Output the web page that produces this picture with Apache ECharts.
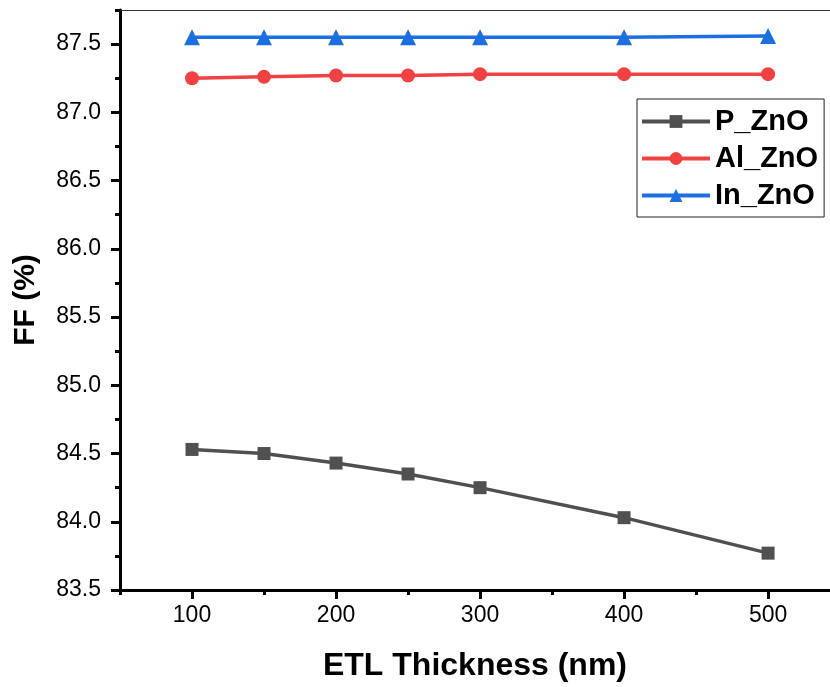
<!DOCTYPE html>
<html lang="en">

<head>
    <meta charset="UTF-8">
    <title>FF vs ETL Thickness</title>
    <style>
        html, body {
            margin: 0;
            padding: 0;
            background: #fff;
        }

        #main {
            width: 830px;
            height: 687px;
        }
    </style>
    <script src="https://cdn.jsdelivr.net/npm/echarts@6/dist/echarts.min.js"></script>
</head>

<body>
    <div id="main"></div>

    <script type="text/javascript">
        // 横轴：ETL 厚度 (nm)
        var thickness = [100, 150, 200, 250, 300, 400, 500];
        // 三组 FF 数据 (%)
        var pZnO = [84.53, 84.50, 84.43, 84.35, 84.25, 84.03, 83.77];
        var alZnO = [87.25, 87.26, 87.27, 87.27, 87.28, 87.28, 87.28];
        var inZnO = [87.55, 87.55, 87.55, 87.55, 87.55, 87.55, 87.56];

        // 刻度
        var xMajorTicks = [100, 200, 300, 400, 500];
        var xMinorTicks = [50, 150, 250, 350, 450];
        var yMajorTicks = [83.5, 84.0, 84.5, 85.0, 85.5, 86.0, 86.5, 87.0, 87.5];
        var yMinorTicks = [83.75, 84.25, 84.75, 85.25, 85.75, 86.25, 86.75, 87.25, 87.75];

        var font = 'Liberation Sans, Arial, sans-serif';

        // 把 x 和 y 组合成点
        function pairs(xs, ys) {
            return xs.map(function (x, i) {
                return [x, ys[i]];
            });
        }

        function makeSeries(name, ys, color, symbol, size) {
            return {
                name: name,
                type: 'line',
                xAxisIndex: 0,
                yAxisIndex: 0,
                data: pairs(thickness, ys),
                symbol: symbol,
                symbolSize: size,
                showAllSymbol: true,
                animation: false,
                lineStyle: { color: color, width: 3.5 },
                itemStyle: { color: color }
            };
        }

        var option = {
            backgroundColor: '#fff',
            textStyle: { fontFamily: font },
            grid: {
                left: 120,
                right: 0,
                top: 10,
                bottom: 97
            },
            legend: {
                orient: 'vertical',
                left: 637,
                top: 99,
                padding: [4, 6, 3, 3],
                itemGap: 0,
                itemWidth: 68,
                itemHeight: 16,
                borderColor: '#222',
                borderWidth: 1,
                lineStyle: { width: 4 },
                textStyle: {
                    fontFamily: font,
                    fontSize: 29,
                    fontWeight: 'bold',
                    color: '#000',
                    lineHeight: 37
                },
                data: ['P_ZnO', 'Al_ZnO', 'In_ZnO']
            },
            xAxis: [{
                type: 'value',
                min: 50,
                max: 543,
                name: 'ETL Thickness (nm)',
                nameLocation: 'middle',
                nameGap: 60,
                nameTextStyle: { fontFamily: font, fontSize: 32, fontWeight: 'bold', color: '#000' },
                splitLine: { show: false },
                axisLine: { lineStyle: { color: '#000', width: 3 } },
                axisTick: { customValues: xMajorTicks, length: 9, lineStyle: { width: 3, color: '#000' } },
                axisLabel: { customValues: xMajorTicks, margin: 14, fontSize: 23, color: '#000', fontFamily: font }
            }, {
                // 次刻度
                type: 'value',
                position: 'bottom',
                min: 50,
                max: 543,
                splitLine: { show: false },
                axisLine: { show: false },
                axisTick: { customValues: xMinorTicks, length: 5, lineStyle: { width: 3, color: '#000' } },
                axisLabel: { show: false }
            }, {
                // 顶部边框
                type: 'value',
                position: 'top',
                min: 50,
                max: 543,
                splitLine: { show: false },
                axisLine: { lineStyle: { color: '#333', width: 1 } },
                axisTick: { show: false },
                axisLabel: { show: false }
            }],
            yAxis: [{
                type: 'value',
                min: 83.5,
                max: 87.75,
                name: 'FF (%)',
                nameLocation: 'middle',
                nameGap: 79,
                nameTextStyle: { fontFamily: font, fontSize: 30, fontWeight: 'bold', color: '#000' },
                splitLine: { show: false },
                axisLine: { lineStyle: { color: '#000', width: 3 } },
                axisTick: { customValues: yMajorTicks, length: 9, lineStyle: { width: 3, color: '#000' } },
                axisLabel: {
                    customValues: yMajorTicks,
                    margin: 19,
                    fontSize: 23,
                    color: '#000',
                    fontFamily: font,
                    formatter: function (v) { return v.toFixed(1); }
                }
            }, {
                // 次刻度
                type: 'value',
                position: 'left',
                min: 83.5,
                max: 87.75,
                splitLine: { show: false },
                axisLine: { show: false },
                axisTick: { customValues: yMinorTicks, length: 5, lineStyle: { width: 3, color: '#000' } },
                axisLabel: { show: false }
            }],
            series: [
                makeSeries('P_ZnO', pZnO, '#505050', 'rect', 13),
                makeSeries('Al_ZnO', alZnO, '#f04242', 'circle', 14),
                makeSeries('In_ZnO', inZnO, '#1c6fe0', 'triangle', 16)
            ]
        };

        var myChart = echarts.init(document.getElementById('main'));
        myChart.setOption(option);
    </script>
</body>

</html>
